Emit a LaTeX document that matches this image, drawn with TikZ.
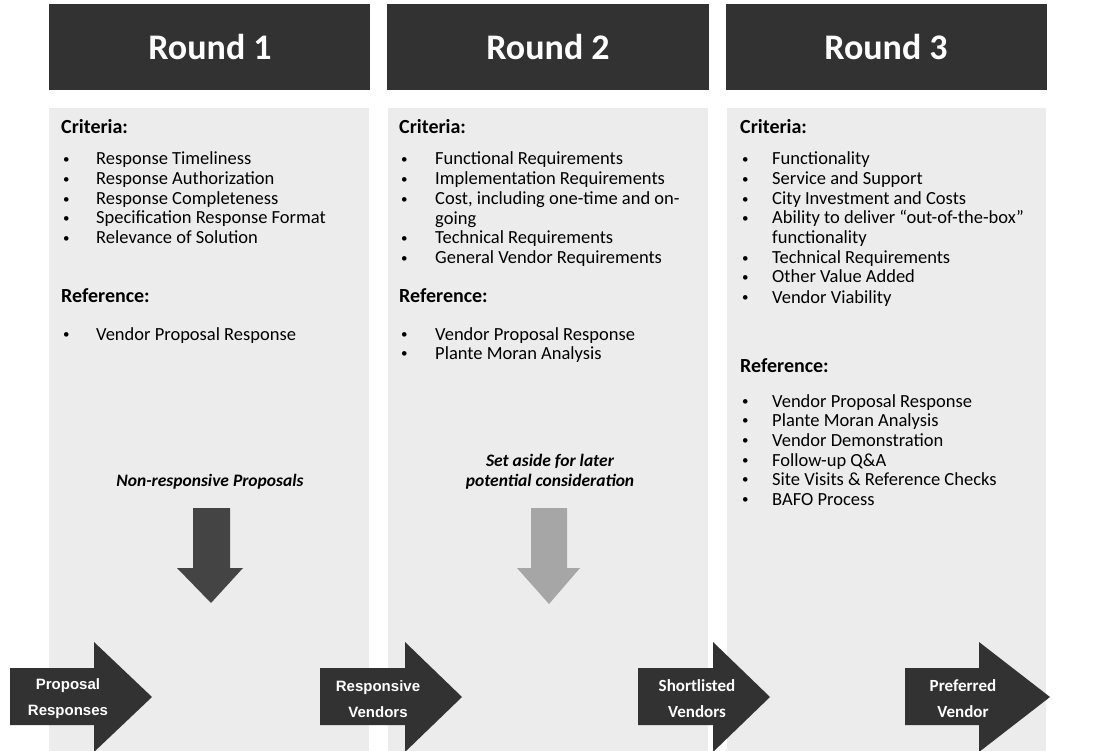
\documentclass[tikz,border=0pt]{standalone}
\usepackage{fontspec}
\setmainfont{Carlito}
\newfontfamily\arialbf{Liberation Sans}[BoldFont={* Bold}]
\begin{document}
\begin{tikzpicture}[x=1pt,y=-1pt,
  panel/.style={fill=panelgray,draw=none},
  header/.style={fill=headgray,draw=none},
  headtext/.style={text=white,font=\fontsize{36}{40}\selectfont\bfseries},
  heading/.style={anchor=base west,inner sep=0pt,font=\fontsize{20}{22}\selectfont\bfseries},
  itemtext/.style={anchor=base west,inner sep=0pt,font=\fontsize{18.5}{20}\selectfont},
  bullettext/.style={anchor=base west,inner sep=0pt,font=\fontsize{13}{14}\selectfont},
  note/.style={inner sep=0pt,align=center,font=\fontsize{17.5}{20}\selectfont\bfseries\itshape},
  flowarrow/.style={fill=headgray,draw=none},
  flowtext/.style={text=white,align=center,inner sep=0pt},
]
\definecolor{panelgray}{HTML}{ECECEC}
\definecolor{headgray}{HTML}{323232}
\definecolor{droparrow}{HTML}{444444}
\definecolor{holdarrow}{HTML}{A6A6A6}

\useasboundingbox (0,0) rectangle (1105,751);

% bullet + text entry: name, bullet x, text x, baseline y, text
\newcommand{\entry}[5]{%
  \node[bullettext] (#1b) at (#2,#4) {\raisebox{1.8pt}{•}};
  \node[itemtext] (#1) at (#3,#4) {#5};}
\newcommand{\contline}[4]{%
  \node[itemtext] (#1) at (#2,#3) {#4};}

% column panels
\fill[panel] (49,108) rectangle (369,751);
\fill[panel] (388,108) rectangle (708,751);
\fill[panel] (727,108) rectangle (1046,751);

% round headers
\fill[header] (49,4) rectangle (370,90);
\fill[header] (387,4) rectangle (709,90);
\fill[header] (726,4) rectangle (1047,90);
\node[headtext] (r1) at (210,47) {Round 1};
\node[headtext] (r2) at (548,47) {Round 2};
\node[headtext] (r3) at (886,47) {Round 3};

% ---- Round 1
\node[heading] (c1h) at (61,134) {Criteria:};
\entry{c1a}{63}{96}{165}{Response Timeliness}
\entry{c1b}{63}{96}{185}{Response Authorization}
\entry{c1c}{63}{96}{205}{Response Completeness}
\entry{c1d}{63}{96}{224}{Specification Response Format}
\entry{c1e}{63}{96}{244}{Relevance of Solution}
\node[heading] (f1h) at (61,302) {Reference:};
\entry{f1a}{63}{96}{340}{Vendor Proposal Response}

% ---- Round 2
\node[heading] (c2h) at (399,134) {Criteria:};
\entry{c2a}{401}{435}{165}{Functional Requirements}
\entry{c2b}{401}{435}{185}{Implementation Requirements}
\entry{c2c}{401}{435}{205}{Cost, including one-time and on-}
\contline{c2cc}{435}{225}{going}
\entry{c2d}{401}{435}{244}{Technical Requirements}
\entry{c2e}{401}{435}{264}{General Vendor Requirements}
\node[heading] (f2h) at (399,302) {Reference:};
\entry{f2a}{401}{435}{340}{Vendor Proposal Response}
\entry{f2b}{401}{435}{359}{Plante Moran Analysis}

% ---- Round 3
\node[heading] (c3h) at (740,134) {Criteria:};
\entry{c3a}{742}{772}{165}{Functionality}
\entry{c3b}{742}{772}{185}{Service and Support}
\entry{c3c}{742}{772}{205}{City Investment and Costs}
\entry{c3d}{742}{772}{224}{Ability to deliver “out-of-the-box”}
\contline{c3dd}{772}{244}{functionality}
\entry{c3e}{742}{772}{264}{Technical Requirements}
\entry{c3f}{742}{772}{283}{Other Value Added}
\entry{c3g}{742}{772}{303}{Vendor Viability}
\node[heading] (f3h) at (740,372) {Reference:};
\entry{f3a}{742}{772}{407}{Vendor Proposal Response}
\entry{f3b}{742}{772}{426}{Plante Moran Analysis}
\entry{f3c}{742}{772}{446}{Vendor Demonstration}
\entry{f3d}{742}{772}{466}{Follow-up Q\&A}
\entry{f3e}{742}{772}{485}{Site Visits \& Reference Checks}
\entry{f3f}{742}{772}{505}{BAFO Process}

% ---- drop-out notes and arrows
\node[note] (n1) at (210,482) {Non-responsive Proposals};
\node[note] (n2) at (550,472) {Set aside for later\\potential consideration};
\fill[droparrow] (193,508) -- (230,508) -- (230,568) -- (243,568) -- (211,603)
  -- (177,568) -- (193,568) -- cycle;
\fill[holdarrow] (531,508) -- (567,508) -- (567,568) -- (580,568) -- (549,604)
  -- (517,568) -- (531,568) -- cycle;

% ---- flow arrows along the bottom
\fill[flowarrow] (10,668) -- (94,668) -- (94,642) -- (152,697) -- (94,752)
  -- (94,725) -- (10,725) -- cycle;
\fill[flowarrow] (320,668) -- (405,668) -- (405,642) -- (462,697) -- (405,752)
  -- (405,725) -- (320,725) -- cycle;
\fill[flowarrow] (638,668) -- (713,668) -- (713,642) -- (770,697) -- (713,752)
  -- (713,725) -- (638,725) -- cycle;
\fill[flowarrow] (905,668) -- (979,668) -- (979,642) -- (1050,697) -- (979,752)
  -- (979,725) -- (905,725) -- cycle;
\node[flowtext,font=\arialbf\fontsize{15}{26}\selectfont\bfseries] (a1) at (68,699) {Proposal\\Responses};
\node[flowtext,font=\arialbf\fontsize{15}{26}\selectfont\bfseries] (a2) at (378,699) {Responsive\\Vendors};
\node[flowtext,font=\fontsize{17}{26}\selectfont\bfseries] (a3) at (697,699) {Shortlisted\\Vendors};
\node[flowtext,font=\fontsize{17}{26}\selectfont\bfseries] (a4) at (963,699) {Preferred\\Vendor};
\end{tikzpicture}
\end{document}
